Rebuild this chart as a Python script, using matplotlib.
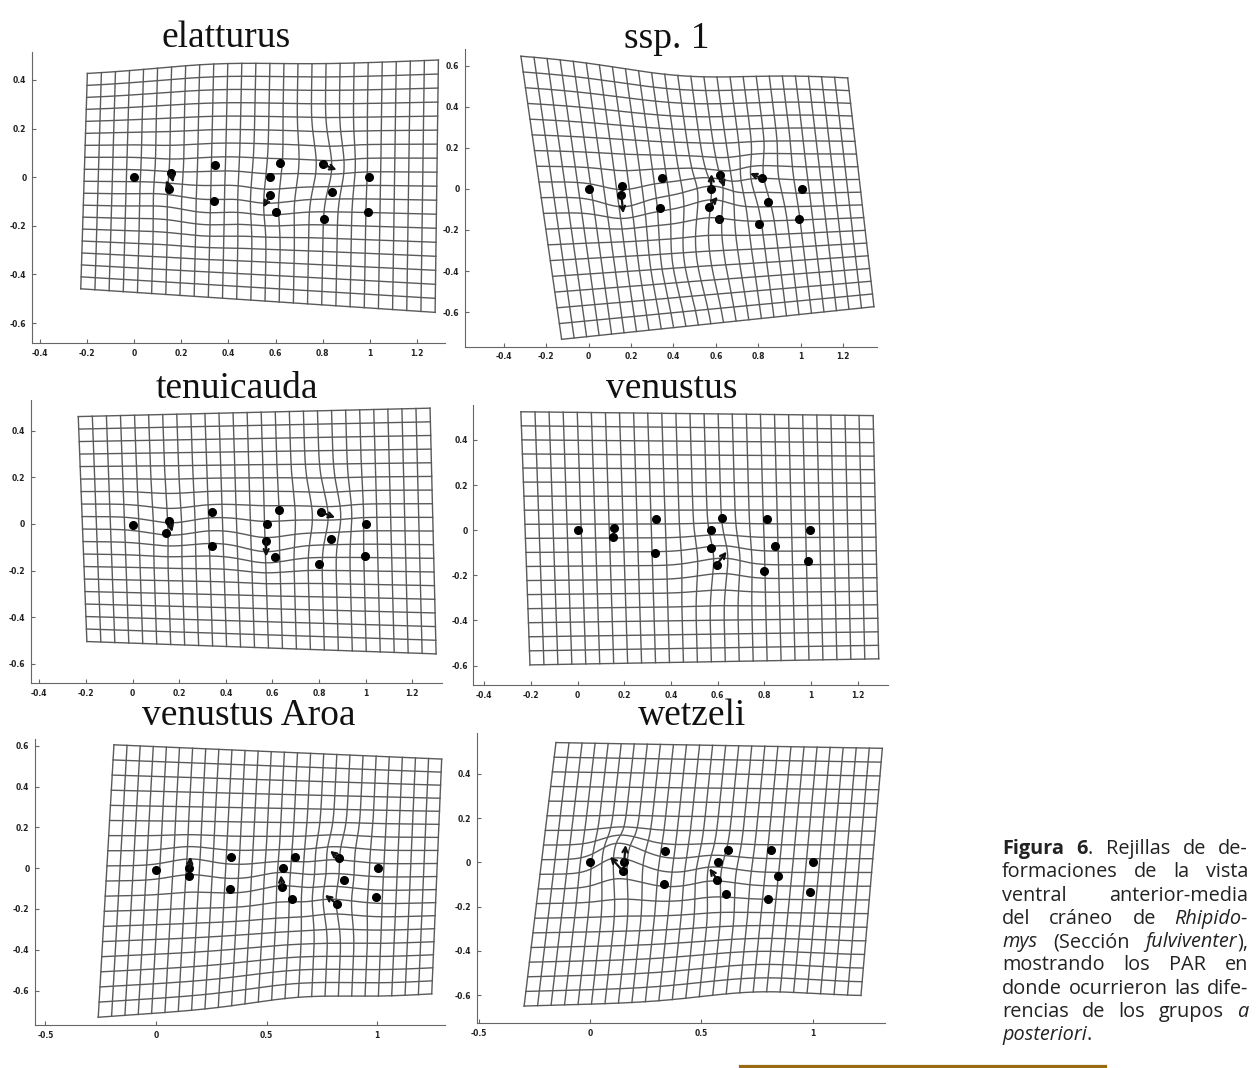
import re
import numpy as np
import matplotlib
matplotlib.use('Agg')
from matplotlib import pyplot as plt

# ---- data ---------------------------------------------------------------
panel_titles = ['elatturus', 'ssp. 1', 'tenuicauda', 'venustus', 'venustus Aroa', 'wetzeli']

# landmark positions (consensus) per panel
elatturus_x = [0.0, 0.156, 0.149, 0.344, 0.340, 0.576, 0.576, 0.620, 0.603, 0.801, 0.839, 0.806, 0.996, 0.992]
elatturus_y = [0.0, 0.017, -0.047, 0.049, -0.099, 0.002, -0.075, 0.057, -0.144, 0.053, -0.062, -0.173, 0.002, -0.144]
ssp1_x = [0.003, 0.159, 0.154, 0.344, 0.338, 0.577, 0.568, 0.621, 0.616, 0.816, 0.848, 0.804, 1.005, 0.992]
ssp1_y = [-0.002, 0.015, -0.031, 0.055, -0.094, -0.002, -0.086, 0.070, -0.148, 0.052, -0.065, -0.172, 0.002, -0.148]
tenuicauda_x = [0.0, 0.158, 0.144, 0.342, 0.341, 0.577, 0.573, 0.626, 0.613, 0.809, 0.852, 0.801, 1.002, 0.999]
tenuicauda_y = [-0.004, 0.013, -0.041, 0.050, -0.096, 0.0, -0.074, 0.059, -0.143, 0.050, -0.066, -0.173, 0.0, -0.139]
venustus_x = [0.0, 0.157, 0.153, 0.336, 0.331, 0.570, 0.570, 0.620, 0.596, 0.813, 0.847, 0.800, 0.997, 0.988]
venustus_y = [0.0, 0.010, -0.028, 0.051, -0.099, 0.0, -0.077, 0.056, -0.152, 0.051, -0.068, -0.179, 0.0, -0.135]
aroa_x = [0.0, 0.151, 0.151, 0.339, 0.335, 0.576, 0.570, 0.629, 0.616, 0.829, 0.852, 0.820, 1.006, 0.997]
aroa_y = [-0.008, 0.0, -0.038, 0.054, -0.103, 0.0, -0.093, 0.054, -0.149, 0.049, -0.059, -0.177, 0.0, -0.139]
wetzeli_x = [0.0, 0.153, 0.147, 0.337, 0.332, 0.576, 0.572, 0.621, 0.611, 0.814, 0.844, 0.801, 1.003, 0.989]
wetzeli_y = [0.0, 0.0, -0.039, 0.053, -0.099, 0.0, -0.078, 0.058, -0.144, 0.058, -0.062, -0.167, 0.0, -0.135]

# arrows: (landmark index, end x, end y)
elatturus_arrows = [(2, 0.135, -0.012), (1, 0.166, -0.022), (9, 0.859, 0.030), (6, 0.548, -0.124)]
ssp1_arrows = [(2, 0.163, -0.119), (5, 0.580, 0.073), (7, 0.640, 0.008), (6, 0.609, -0.038),
               (8, 0.592, -0.141), (9, 0.761, 0.077)]
tenuicauda_arrows = [(1, 0.170, -0.035), (9, 0.869, 0.027), (6, 0.573, -0.140)]
venustus_arrows = [(8, 0.639, -0.095)]
aroa_arrows = [(1, 0.157, 0.057), (6, 0.565, -0.034), (9, 0.787, 0.085), (11, 0.764, -0.131)]
wetzeli_arrows = [(1, 0.160, 0.079), (2, 0.090, 0.026), (6, 0.536, -0.027)]

# deformed grid outline corners: top-left, top-right, bottom-left, bottom-right
elatturus_corners = [(-0.199, 0.425), (1.291, 0.482), (-0.227, -0.459), (1.277, -0.556)]
ssp1_corners = [(-0.320, 0.649), (1.222, 0.543), (-0.128, -0.733), (1.346, -0.574)]
tenuicauda_corners = [(-0.233, 0.460), (1.276, 0.496), (-0.196, -0.504), (1.302, -0.557)]
venustus_corners = [(-0.243, 0.525), (1.267, 0.508), (-0.204, -0.597), (1.291, -0.570)]
aroa_corners = [(-0.190, 0.605), (1.292, 0.535), (-0.261, -0.731), (1.247, -0.617)]
wetzeli_corners = [(-0.153, 0.542), (1.313, 0.516), (-0.296, -0.650), (1.217, -0.608)]

# extra local bends of the grid: (x, y, dx, dy, radius)
elatturus_bends = [(0.35, 0.45, 0.0, 0.02, 0.25), (0.30, -0.12, 0.0, -0.02, 0.10)]
ssp1_bends = [(0.45, 0.60, 0.0, -0.045, 0.30), (0.50, -0.35, -0.03, 0.0, 0.15)]
tenuicauda_bends = []
venustus_bends = []
aroa_bends = [(0.65, -0.62, 0.0, 0.03, 0.22)]
wetzeli_bends = [(0.75, -0.60, 0.0, 0.035, 0.25)]

xticks_a = [-0.4, -0.2, 0, 0.2, 0.4, 0.6, 0.8, 1, 1.2]
xticks_b = [-0.5, 0, 0.5, 1]
yticks_a = [-0.6, -0.4, -0.2, 0, 0.2, 0.4]
yticks_b = [-0.6, -0.4, -0.2, 0, 0.2, 0.4, 0.6]

caption = [
    '**Figura 6**.  Rejillas de de-',
    'formaciones de la vista',
    'ventral anterior-media',
    'del cráneo de *Rhipido-*',
    '*mys* (Sección *fulviventer*),',
    'mostrando los PAR en',
    'donde ocurrieron las dife-',
    'rencias de los grupos *a*',
    '*posteriori*.',
]

# ---- layout ---------------------------------------------------------------
W, H = 1259, 1068
fig = plt.figure(figsize=(W / 100, H / 100), dpi=100)

panels = [
    # (box l, r, t, b in px), xlim, ylim, xticks, yticks, ..., title position (px)
    ((32, 445, 52, 343), (-0.434, 1.319), (-0.682, 0.515), xticks_a, yticks_a,
     elatturus_x, elatturus_y, elatturus_arrows, elatturus_corners, elatturus_bends, (226, 47)),
    ((465, 876.7, 49.3, 346.7), (-0.584, 1.359), (-0.769, 0.681), xticks_a, yticks_b,
     ssp1_x, ssp1_y, ssp1_arrows, ssp1_corners, ssp1_bends, (667, 48)),
    ((30.7, 441.7, 400, 683.3), (-0.437, 1.326), (-0.683, 0.531), xticks_a, yticks_a,
     tenuicauda_x, tenuicauda_y, tenuicauda_arrows, tenuicauda_corners, tenuicauda_bends, (237, 398)),
    ((473.3, 888.3, 405, 685), (-0.447, 1.332), (-0.686, 0.555), xticks_a, yticks_a,
     venustus_x, venustus_y, venustus_arrows, venustus_corners, venustus_bends, (672, 398)),
    ((35, 445, 739.3, 1025), (-0.547, 1.307), (-0.769, 0.632), xticks_b, yticks_b,
     aroa_x, aroa_y, aroa_arrows, aroa_corners, aroa_bends, (249, 725)),
    ((476.7, 885, 733.3, 1023.3), (-0.509, 1.325), (-0.728, 0.584), xticks_b, yticks_a,
     wetzeli_x, wetzeli_y, wetzeli_arrows, wetzeli_corners, wetzeli_bends, (692, 725)),
]


def warp(u, v, corners, bends):
    (tlx, tly), (trx, try_), (blx, bly), (brx, bry) = corners
    x = (1 - u) * (1 - v) * blx + u * (1 - v) * brx + (1 - u) * v * tlx + u * v * trx
    y = (1 - u) * (1 - v) * bly + u * (1 - v) * bry + (1 - u) * v * tly + u * v * try_
    dx = np.zeros_like(x)
    dy = np.zeros_like(y)
    for bx, by, ddx, ddy, s in bends:
        w = np.exp(-((x - bx) ** 2 + (y - by) ** 2) / (2 * s ** 2))
        dx += ddx * w
        dy += ddy * w
    return x + dx, y + dy


grid_col = '#5a5a5a'
for title, (box, xl, yl, xt, yt, lx, ly, arrows, corners, bends, tpos) in zip(panel_titles, panels):
    l, r, t, b = box
    ax = fig.add_axes([l / W, 1 - b / H, (r - l) / W, (b - t) / H])
    ax.set_xlim(*xl)
    ax.set_ylim(*yl)

    # arrows also bend the grid locally
    allbends = list(bends) + [(lx[i], ly[i], 0.55 * (ex - lx[i]), 0.55 * (ey - ly[i]), 0.09)
                              for i, ex, ey in arrows]
    ncol, nrow = 25, 18
    fine = np.linspace(0, 1, 150)
    for i in range(ncol + 1):
        gx, gy = warp(np.full_like(fine, i / ncol), fine, corners, allbends)
        ax.plot(gx, gy, color=grid_col, lw=1.0)
    for j in range(nrow + 1):
        gx, gy = warp(fine, np.full_like(fine, j / nrow), corners, allbends)
        ax.plot(gx, gy, color=grid_col, lw=1.0)

    ax.plot(lx, ly, 'o', color='black', ms=5.5, zorder=5)
    for i, ex, ey in arrows:
        ax.annotate('', xy=(ex, ey), xytext=(lx[i], ly[i]),
                    arrowprops=dict(arrowstyle='->', lw=1.6, color='#111111',
                                    mutation_scale=9, shrinkA=0, shrinkB=0), zorder=6)

    for s in ['top', 'right']:
        ax.spines[s].set_visible(False)
    for s in ['left', 'bottom']:
        ax.spines[s].set_color('#666666')
        ax.spines[s].set_linewidth(0.8)
    ax.set_xticks(xt)
    ax.set_xticklabels(['%g' % v for v in xt])
    ax.set_yticks(yt)
    ax.set_yticklabels(['%g' % v for v in yt])
    ax.tick_params(direction='in', length=3, width=0.8, colors='#666666',
                   labelsize=5.5, labelcolor='#222222', pad=4)
    for lab in ax.get_xticklabels() + ax.get_yticklabels():
        lab.set_fontweight('bold')

    fig.text(tpos[0] / W, 1 - tpos[1] / H, title, ha='center', va='baseline',
             fontsize=27, family='Liberation Serif', color='#111111')

# ---- caption (justified) ----------------------------------------------------
renderer = fig.canvas.get_renderer()
cap_font = dict(fontsize=14.3, family='Open Sans', color='#222222')
x0, x1 = 1002, 1248
base0, step = 854, 23.3


def text_width(s, **kw):
    t = fig.text(0, 0, s, **kw)
    w = t.get_window_extent(renderer).width
    t.remove()
    return w


space_w = text_width('a a', **cap_font) - 2 * text_width('a', **cap_font)

for k, line in enumerate(caption):
    runs = []
    for m in re.finditer(r'\*\*(.+?)\*\*|\*(.+?)\*|([^*]+)', line):
        if m.group(1):
            runs.append((m.group(1), 'normal', 'bold'))
        elif m.group(2):
            runs.append((m.group(2), 'italic', 'normal'))
        else:
            runs.append((m.group(3), 'normal', 'normal'))
    words = [[]]
    for text, st, wt in runs:
        parts = text.split(' ')
        for n, p in enumerate(parts):
            if n > 0:
                words.append([])
            if p:
                words[-1].append((p, st, wt))
    words = [w for w in words if w]
    yb = 1 - (base0 + k * step) / H
    objs = []
    widths = []
    for w in words:
        wo = []
        ww = 0
        for p, st, wt in w:
            t = fig.text(0, yb, p, style=st, weight=wt, va='baseline', **cap_font)
            bw = t.get_window_extent(renderer).width
            wo.append((t, bw))
            ww += bw
        objs.append(wo)
        widths.append(ww)
    if k == len(caption) - 1 or len(words) == 1:
        gap = space_w
    else:
        gap = (x1 - x0 - sum(widths)) / (len(words) - 1)
    xp = x0
    for wo, ww in zip(objs, widths):
        xx = xp
        for t, bw in wo:
            t.set_x(xx / W)
            xx += bw
        xp += ww + gap

fig.add_artist(plt.Line2D([740 / W, 1105 / W], [1 - 1065.5 / H] * 2, color='#9a6a12', lw=2.3))

fig.savefig('out.png', dpi=100, facecolor='white')
